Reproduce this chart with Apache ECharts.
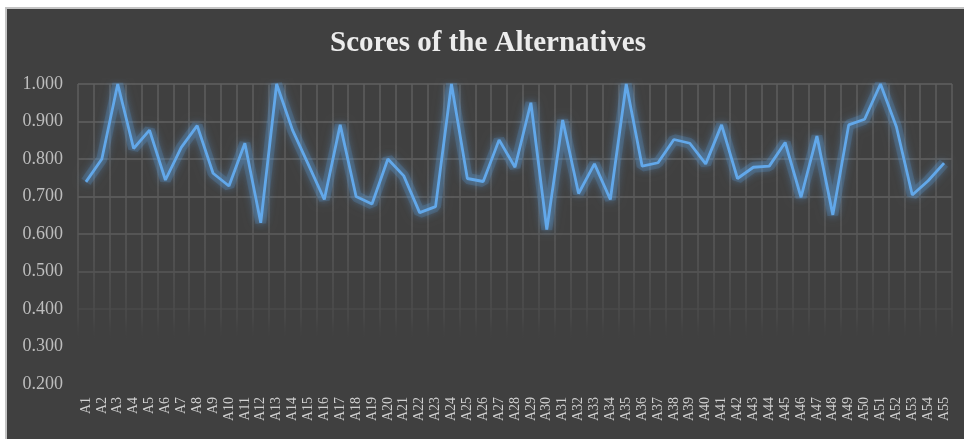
<!DOCTYPE html>
<html>
<head>
<meta charset="utf-8">
<script src="https://cdn.jsdelivr.net/npm/echarts@6/dist/echarts.min.js"></script>
<style>
  html, body { margin: 0; padding: 0; background: #ffffff; width: 964px; height: 439px; overflow: hidden; }
  #frame { position: absolute; left: 5px; top: 7px; width: 959px; height: 432px; box-sizing: border-box;
           border-left: 2px solid #c4c4c4; border-top: 2px solid #c4c4c4; background: #404040; }
  #chart { width: 957px; height: 430px; }
</style>
</head>
<body>
<div id="frame"><div id="chart"></div></div>
<script>
const titleText = 'Scores of the Alternatives';
const categories = [];
for (let i = 1; i <= 55; i++) categories.push('A' + i);
const scores = [
  0.739, 0.800, 1.000, 0.828, 0.877, 0.744, 0.831, 0.889, 0.762, 0.728,
  0.842, 0.630, 1.000, 0.877, 0.785, 0.692, 0.891, 0.700, 0.680, 0.800,
  0.755, 0.657, 0.673, 1.000, 0.748, 0.740, 0.851, 0.778, 0.950, 0.612,
  0.904, 0.708, 0.787, 0.692, 1.000, 0.781, 0.790, 0.852, 0.842, 0.787,
  0.891, 0.748, 0.778, 0.781, 0.844, 0.698, 0.861, 0.651, 0.891, 0.906,
  1.000, 0.886, 0.704, 0.742, 0.789
];
const yMin = 0.2, yMax = 1.0, yStep = 0.1;

const chart = echarts.init(document.getElementById('chart'), null, { renderer: 'canvas' });
const fade = {
  type: 'linear', x: 0, y: 75, x2: 0, y2: 375, global: true,
  colorStops: [
    { offset: 0, color: '#5e5e5e' },
    { offset: 0.55, color: '#575757' },
    { offset: 0.78, color: '#4a4a4a' },
    { offset: 0.86, color: 'rgba(64,64,64,0)' },
    { offset: 1, color: 'rgba(64,64,64,0)' }
  ]
};
chart.setOption({
  backgroundColor: '#404040',
  animation: false,
  title: {
    text: titleText,
    left: 318,
    top: 15,
    textStyle: { fontFamily: 'Liberation Serif', fontWeight: 'bold', fontSize: 29, color: '#ececec' }
  },
  grid: { left: 71, right: 12, top: 75, bottom: 55, containLabel: false },
  xAxis: {
    type: 'category',
    data: categories,
    boundaryGap: true,
    axisLine: { show: false },
    axisTick: { show: false },
    axisLabel: {
      interval: 0, rotate: 90, margin: 13,
      fontFamily: 'Liberation Serif', fontSize: 14, color: '#d0d0d0'
    },
    splitLine: { show: true, interval: 0, lineStyle: { color: fade, width: 1.5 } }
  },
  yAxis: {
    type: 'value',
    min: yMin, max: yMax, interval: yStep,
    axisLine: { show: false },
    axisTick: { show: false },
    axisLabel: {
      margin: 15,
      formatter: v => v.toFixed(3),
      fontFamily: 'Liberation Serif', fontSize: 18, color: '#bdbdbd'
    },
    splitLine: {
      show: true,
      lineStyle: {
        color: ['rgba(0,0,0,0)', 'rgba(0,0,0,0)', '#4a4a4a', '#575757', '#5d5d5d', '#606060', '#606060', '#606060', '#606060'],
        width: 1.5
      }
    }
  },
  series: [{
    type: 'line',
    data: scores,
    symbol: 'none',
    silent: true,
    z: 1,
    lineStyle: {
      color: 'rgba(91,155,213,0.22)', width: 11,
      shadowColor: 'rgba(91,155,213,0.6)', shadowBlur: 10
    }
  }, {
    type: 'line',
    data: scores,
    symbol: 'none',
    smooth: false,
    z: 2,
    lineStyle: {
      color: '#62a8ea', width: 2.8,
      shadowColor: 'rgba(91,155,213,1)', shadowBlur: 8
    }
  }]
});
</script>
</body>
</html>
